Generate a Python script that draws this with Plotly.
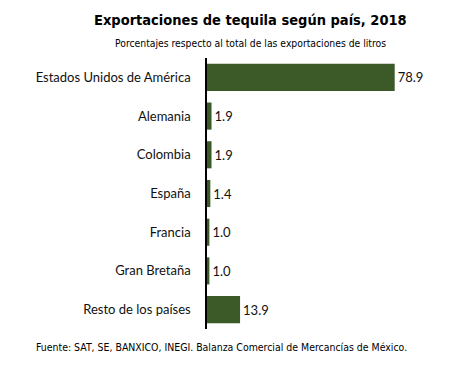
import plotly.graph_objects as go

countries = ["Estados Unidos de América", "Alemania", "Colombia", "España",
             "Francia", "Gran Bretaña", "Resto de los países"]
values = [78.9, 1.9, 1.9, 1.4, 1.0, 1.0, 13.9]
value_labels = ["78.9", "1.9", "1.9", "1.4", "1.0", "1.0", "13.9"]

title = "Exportaciones de tequila según país, 2018"
subtitle = "Porcentajes respecto al total de las exportaciones de litros"
source = "Fuente: SAT, SE, BANXICO, INEGI. Balanza Comercial de Mercancías de México."

W, H = 461, 382
L, R, T, B = 207, 28, 58, 53
pw, ph = W - L - R, H - T - B

def px(x):
    return (x - L) / pw

def py(y):
    return (H - B - y) / ph

COND = "DejaVu Sans Condensed, DejaVu Sans, sans-serif"

fig = go.Figure(go.Bar(
    x=values, y=countries, orientation="h",
    marker=dict(color="#3b5a27", line=dict(width=0)),
    text=value_labels, textposition="outside", cliponaxis=False,
    textfont=dict(family="Lato", size=13, color="#111"),
    width=0.7,
))

fig.update_layout(
    width=W, height=H,
    margin=dict(l=L, r=R, t=T, b=B),
    plot_bgcolor="white", paper_bgcolor="white",
    showlegend=False,
    xaxis=dict(range=[0, 95], visible=False, fixedrange=True),
    yaxis=dict(autorange="reversed", showline=True, linecolor="black", linewidth=1.5,
               ticks="", ticklabelstandoff=12, showgrid=False, fixedrange=True,
               tickfont=dict(family="Lato", size=13, color="#111")),
    annotations=[
        dict(text="<b>" + title + "</b>", xref="paper", yref="paper",
             x=px(250), y=py(20), xanchor="center", yanchor="middle", showarrow=False,
             font=dict(family=COND, size=14.5, color="#000")),
        dict(text=subtitle, xref="paper", yref="paper",
             x=px(250.5), y=py(43), xanchor="center", yanchor="middle", showarrow=False,
             font=dict(family=COND, size=10.3, color="#000")),
        dict(text=source, xref="paper", yref="paper",
             x=px(34), y=py(347), xanchor="left", yanchor="middle", showarrow=False,
             font=dict(family=COND, size=10.45, color="#000")),
    ],
)

fig.write_html("out.html", config={"displayModeBar": False},
               post_script="document.body.style.margin='0';")
